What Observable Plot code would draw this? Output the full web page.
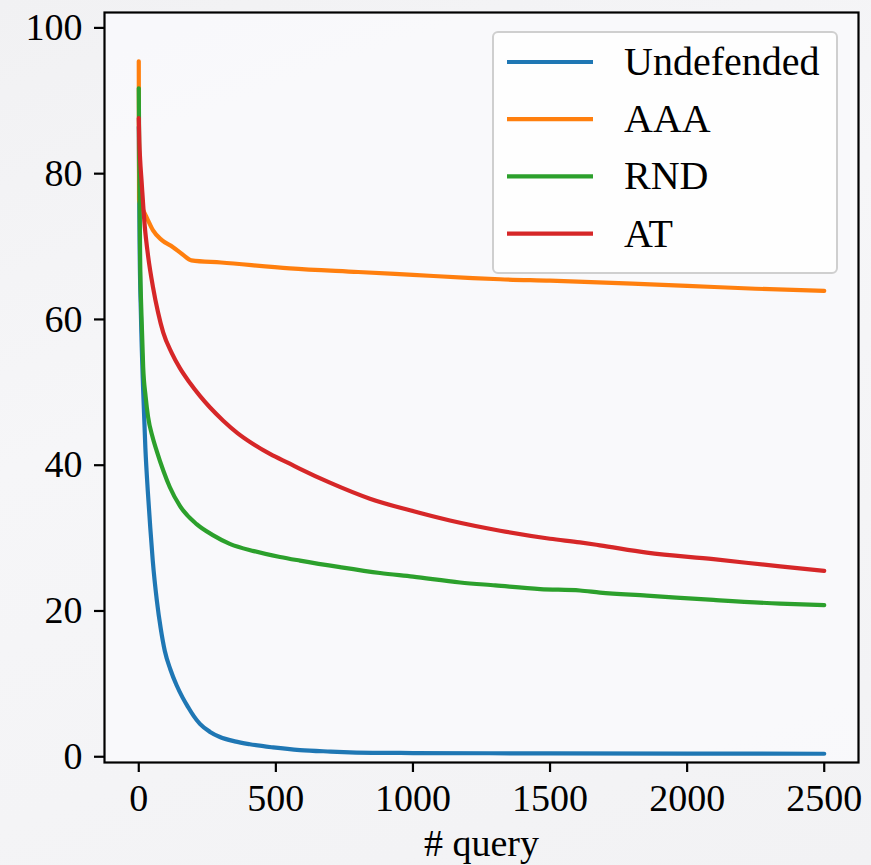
<!DOCTYPE html>
<html>
<head>
<meta charset="utf-8">
<script src="https://cdn.jsdelivr.net/npm/d3@7"></script>
<script src="https://cdn.jsdelivr.net/npm/@observablehq/plot@0.6"></script>
<style>
  html, body { margin: 0; padding: 0; }
  body {
    width: 871px; height: 865px; overflow: hidden;
    background: linear-gradient(160deg, #f1f1f3 0%, #f6f6f8 40%, #f2f2f4 100%);
  }
  #chart { position: absolute; left: 0; top: 0; }
</style>
</head>
<body>
<div id="chart"></div>
<script>
// ---- data ----
const seriesNames = ["Undefended", "AAA", "RND", "AT"];
const seriesColors = ["#1f77b4", "#ff7f0e", "#2ca02c", "#d62728"];

const undefendedQ = [0, 3, 8, 16, 24, 33, 42, 51, 66, 80, 95, 115, 138, 160, 180, 200, 223, 260, 296, 350, 405, 490, 588, 700, 770, 900, 1000, 1500, 2000, 2500];
const undefendedV = [86, 70, 60, 49.9, 42, 36, 31, 26.5, 21, 17.2, 14.1, 11.6, 9.4, 7.7, 6.4, 5.2, 4.1, 3.0, 2.3, 1.7, 1.3, 0.87, 0.5, 0.3, 0.2, 0.12, 0.1, 0.05, 0.02, 0];

const aaaQ = [0, 1, 5, 16, 30, 52, 83, 125, 160, 192, 300, 551, 800, 1000, 1200, 1318, 1500, 1800, 2000, 2250, 2500];
const aaaV = [95, 76, 75.5, 74.6, 73.5, 71.8, 70.5, 69.5, 68.5, 67.7, 67.4, 66.6, 66.1, 65.7, 65.3, 65.1, 64.9, 64.5, 64.2, 63.8, 63.5];

const rndQ = [0, 2, 5, 10, 16, 25, 34, 50, 65, 90, 113, 150, 211, 270, 332, 420, 515, 588, 734, 880, 1000, 1172, 1300, 1464, 1609, 1682, 1853, 2096, 2339, 2500];
const rndV = [91.3, 80, 68, 60, 53.1, 49, 46.2, 43.5, 41.6, 38.8, 36.6, 34, 31.5, 30, 28.8, 27.8, 27.0, 26.5, 25.6, 24.8, 24.3, 23.5, 23.1, 22.6, 22.4, 22.1, 21.7, 21.1, 20.6, 20.4];

const atQ = [0, 2, 5, 10, 22, 34, 52, 70, 89, 120, 150, 186, 223, 260, 308, 360, 417, 480, 551, 588, 697, 843, 989, 1135, 1318, 1500, 1609, 1682, 1853, 2096, 2339, 2500];
const atV = [87.2, 84, 81.5, 78.7, 72.3, 68.3, 64, 60.6, 57.8, 55.0, 52.9, 50.9, 49.1, 47.5, 45.7, 44, 42.5, 41.1, 39.8, 39.1, 37.2, 35, 33.4, 32, 30.6, 29.5, 29, 28.6, 27.6, 26.7, 25.7, 25.1];

const xTicks = [0, 500, 1000, 1500, 2000, 2500];
const yTicks = [0, 20, 40, 60, 80, 100];
const xLabel = "# query";

// ---- build tables ----
const toRows = (qs, vs) => qs.map((q, i) => ({q, v: vs[i]}));
const tables = [
  toRows(undefendedQ, undefendedV),
  toRows(aaaQ, aaaV),
  toRows(rndQ, rndV),
  toRows(atQ, atV)
];

const W = 871, H = 865;
const mL = 104, mR = 13, mT = 12, mB = 103;

const svg = Plot.plot({
  width: W,
  height: H,
  marginLeft: mL,
  marginRight: mR,
  marginTop: mT,
  marginBottom: mB,
  style: {
    fontFamily: "'Liberation Serif', 'Times New Roman', serif",
    fontSize: "38px",
    background: "transparent",
    color: "black",
    overflow: "visible"
  },
  x: {domain: [-125, 2625]},
  y: {domain: [-1.2, 101.7]},
  marks: [
    Plot.frame({fill: "#f9f9fb", fillOpacity: 0.85}),
    ...tables.map((t, i) => Plot.line(t, {
      x: "q", y: "v",
      stroke: seriesColors[i],
      strokeWidth: 4.2,
      curve: "monotone-x"
    })),
    Plot.frame({stroke: "black", strokeWidth: 2.2}),
    Plot.axisY({
      ticks: yTicks, tickSize: 10, tickPadding: 12, strokeWidth: 2.2,
      label: null, tickFormat: d => String(d), dy: 3
    }),
    Plot.axisX({
      ticks: xTicks, tickSize: 10, tickPadding: 12, strokeWidth: 2.2,
      label: xLabel, labelAnchor: "center", labelArrow: "none", labelOffset: 93,
      tickFormat: d => String(d)
    })
  ]
});

document.getElementById("chart").appendChild(svg);

// ---- legend (upper right, matplotlib style) ----
const lg = d3.select(svg).append("g")
  .attr("font-family", "'Liberation Serif', 'Times New Roman', serif")
  .attr("font-size", 40)
  .attr("text-anchor", "start");
lg.append("rect")
  .attr("x", 493).attr("y", 32).attr("width", 344).attr("height", 241)
  .attr("rx", 5).attr("ry", 5)
  .attr("fill", "#ffffff").attr("fill-opacity", 0.8)
  .attr("stroke", "#cfcfcf").attr("stroke-width", 2);
seriesNames.forEach((name, i) => {
  const cy = 62 + i * 57.2;
  lg.append("line")
    .attr("x1", 507).attr("x2", 593).attr("y1", cy).attr("y2", cy)
    .attr("stroke", seriesColors[i]).attr("stroke-width", 4.2);
  lg.append("text")
    .attr("x", 624).attr("y", cy + 13)
    .attr("text-anchor", "start")
    .attr("fill", "black")
    .text(name);
});
</script>
</body>
</html>
